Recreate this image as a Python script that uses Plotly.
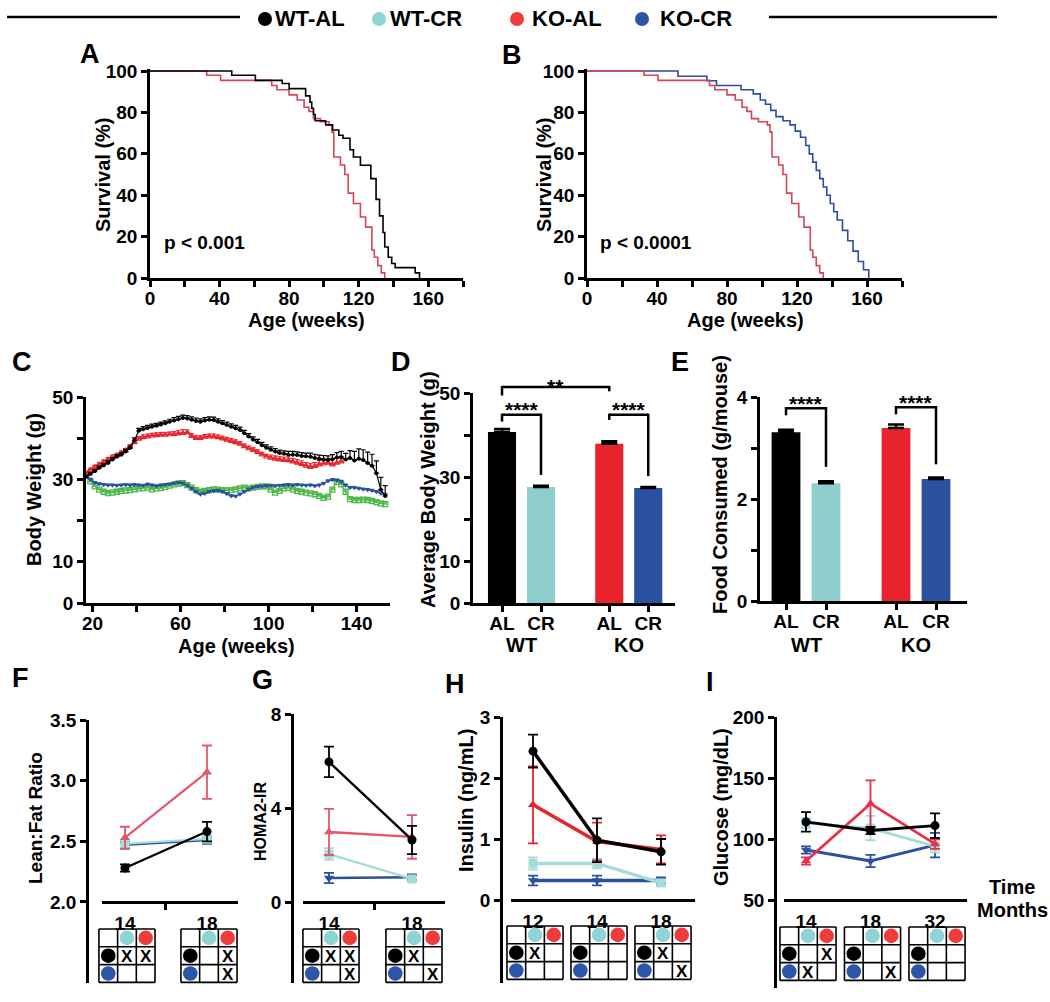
import plotly.graph_objects as go

W, H = 1050, 1002
FONT = "Liberation Sans, Arial, Helvetica, sans-serif"


def X(px):
    return px / W


def Y(py):
    return 1 - py / H


# ---------------- colours ----------------
C_BLACK = "#000000"
C_CYAN = "#8ecfcd"
C_RED = "#e8232b"
C_BLUE = "#2a50a0"
C_GREEN = "#4cb848"
C_RED_SURV = "#d9435a"
C_BLUE_SURV = "#2d4e9c"
C_RED_LINE = "#e2576b"
C_CYAN_LINE = "#a6dcd8"
DOT = {"WT-AL": "#000000", "WT-CR": "#8fd3d3", "KO-AL": "#ee3b3b", "KO-CR": "#2b56a8"}

# ---------------- data ----------------
groups = ["WT-AL", "WT-CR", "KO-AL", "KO-CR"]

# A / B : survival (weeks, %)
wt_al_weeks = [0, 47, 60.6, 76, 80, 89.5, 92, 93, 94, 95, 101, 105, 108.6, 111, 115, 117, 121, 127, 130, 132,
               134, 135, 137, 139, 141, 152.5, 155]
wt_al_surv = [100, 98, 95.5, 94, 91.5, 88, 85, 82, 79, 76, 74, 71.5, 69, 67.5, 62, 58.5, 54.5, 48, 38, 30,
              22, 15, 10, 7, 5, 2.5, 0]
ko_al_weeks = [0, 32.6, 40.6, 70, 73, 80, 84.7, 88.6, 91.4, 94, 98, 103, 104.6, 105.7, 109.5, 112, 114, 117, 121, 124,
               127.6, 129, 131, 133, 135]
ko_al_surv = [100, 98, 95.5, 93, 91, 88.5, 86, 82.5, 80.5, 77, 75.5, 74, 70.5, 58.5, 54.6, 50, 41, 36, 29.5, 24.6,
              13.5, 10, 6, 2.5, 0]
ko_cr_weeks = [0, 52, 68.5, 74, 88, 95, 99, 102, 105, 108, 112, 116, 119, 122, 125, 127, 129, 131, 133, 135,
               137, 139, 141, 143, 146, 149, 152, 155, 158, 161]
ko_cr_surv = [100, 97.5, 95.3, 93, 91, 89, 86, 84, 81, 78, 76, 74, 71, 68, 64, 60, 56, 52, 48, 44,
              40, 36, 32, 28, 23, 18, 13, 8, 4, 0]

# C : body weight (g) vs age (weeks)
weeks_c = list(range(17, 154, 2))
bw_wt_al = [30.6, 31.3, 32.0, 32.8, 33.4, 34.0, 34.8, 35.5, 36.0, 36.8, 37.6, 39.5,
            41.8, 42.2, 42.5, 42.8, 43.0, 43.3, 43.6, 44.0, 44.3, 44.6, 44.9, 44.8,
            44.5, 44.2, 44.0, 44.3, 44.5, 44.4, 44.0, 43.6, 43.2, 42.8, 42.4, 42.0,
            41.2, 40.4, 39.6, 39.0, 38.3, 37.7, 37.2, 36.8, 36.4, 36.2, 36.0, 36.0,
            35.9, 35.7, 35.6, 35.5, 35.2, 35.0, 34.8, 34.7, 34.9, 35.3, 35.4, 34.8,
            35.2, 34.6, 35.0, 34.7, 34.0, 33.3, 31.5, 27.5, 26.0]
bw_wt_al_err = [0.4, 0.4, 0.4, 0.4, 0.4, 0.5, 0.5, 0.5, 0.5, 0.5, 0.5, 0.6,
                0.6, 0.6, 0.6, 0.6, 0.6, 0.6, 0.6, 0.6, 0.7, 0.7, 0.7, 0.7,
                0.7, 0.7, 0.7, 0.7, 0.7, 0.7, 0.7, 0.7, 0.7, 0.7, 0.7, 0.7,
                0.7, 0.7, 0.7, 0.7, 0.7, 0.7, 0.7, 0.7, 0.7, 0.7, 0.8, 0.8,
                0.8, 0.8, 0.8, 0.9, 0.9, 0.9, 1.0, 1.0, 1.1, 1.2, 1.4, 1.5,
                1.8, 2.2, 2.4, 2.5, 2.6, 2.8, 3.0, 3.0, 2.5]
bw_ko_al = [31.5, 32.3, 33.0, 33.6, 34.2, 34.8, 35.4, 35.8, 36.4, 37.0, 37.9, 39.0,
            39.8, 40.2, 40.4, 40.6, 40.7, 40.8, 40.8, 40.9, 41.0, 41.1, 41.2, 41.4,
            40.5, 40.0, 40.0, 40.3, 40.4, 40.4, 40.2, 39.9, 39.6, 39.3, 39.0, 38.6,
            38.0, 37.5, 37.1, 36.6, 36.0, 35.5, 35.2, 35.0, 34.8, 34.7, 34.6, 34.3,
            34.0, 33.7, 33.3, 33.0, 33.2, 33.6, 33.8, 34.0, 33.6, 34.0, 34.3]
bw_ko_al_err = [0.4, 0.4, 0.4, 0.4, 0.5, 0.5, 0.5, 0.5, 0.5, 0.5, 0.5, 0.5,
                0.6, 0.6, 0.6, 0.6, 0.6, 0.6, 0.6, 0.6, 0.6, 0.8, 0.9, 0.6,
                0.6, 0.6, 0.6, 0.6, 0.6, 0.6, 0.6, 0.6, 0.6, 0.6, 0.6, 0.6,
                0.6, 0.6, 0.6, 0.6, 0.6, 0.6, 0.7, 0.7, 0.7, 0.7, 0.8, 0.8,
                0.8, 0.8, 0.8, 0.9, 0.9, 1.0, 1.0, 1.1, 1.2, 1.2, 1.3]
bw_ko_cr = [31.0, 30.0, 29.2, 28.9, 28.7, 28.6, 28.6, 28.5, 28.6, 28.7, 28.6, 28.7,
            28.6, 28.5, 28.8, 28.6, 28.4, 28.6, 28.7, 28.8, 29.0, 29.2, 29.0, 28.5,
            27.8, 27.0, 26.4, 26.6, 27.0, 27.2, 27.3, 27.0, 26.5, 26.0, 25.9, 26.4,
            27.0, 27.6, 28.0, 28.2, 28.3, 28.4, 28.5, 28.4, 28.5, 28.6, 28.7, 28.6,
            28.7, 28.6, 28.5, 28.6, 28.4, 28.6, 29.0, 29.6, 29.9, 29.8, 29.5, 28.6,
            28.0, 28.0, 27.8, 27.6, 27.5, 27.3, 27.0, 26.6, 26.3]
bw_wt_cr = [31.2, 29.5, 28.3, 27.5, 27.0, 26.7, 26.8, 27.0, 27.2, 27.3, 27.4, 27.6,
            27.8, 27.9, 28.0, 27.6, 27.8, 27.9, 28.2, 28.5, 28.8, 29.0, 29.1, 28.6,
            28.0, 27.4, 27.0, 27.2, 27.4, 27.6, 27.5, 27.4, 27.3, 27.4, 27.6, 27.8,
            28.0, 27.8, 28.0, 28.2, 28.3, 28.3, 27.5, 26.8, 27.2, 27.8, 28.0, 27.6,
            27.2, 27.0, 26.8, 26.6, 26.4, 26.0, 25.5, 25.8, 27.5, 29.4, 28.8, 27.0,
            25.2, 25.0, 25.0, 25.1, 25.0, 24.8, 24.5, 24.2, 24.0]

# D : average body weight (g)
bar_labels = ["AL", "CR", "AL", "CR"]
bar_pos = [0, 1, 2.75, 3.75]
bar_groups = ["WT", "KO"]
d_vals = [40.7, 27.6, 37.9, 27.4]
d_err = [0.7, 0.3, 0.6, 0.2]
# E : food consumed (g/mouse)
e_vals = [3.31, 2.31, 3.39, 2.39]
e_err = [0.05, 0.04, 0.07, 0.03]

# F : lean:fat ratio at 14, 18 months
f_months = ["14", "18"]
f_data = {"WT-AL": ([2.28, 2.58], [0.03, 0.08]),
          "WT-CR": ([2.48, 2.52], [0.03, 0.03]),
          "KO-AL": ([2.53, 3.07], [0.09, 0.22]),
          "KO-CR": ([2.47, 2.51], [0.03, 0.03])}
f_tables = [[[1, 1], [0, 0]], [[0, 1], [0, 1]]]
# G : HOMA2-IR
g_months = ["14", "18"]
g_data = {"WT-AL": ([5.96, 2.64], [0.65, 0.60]),
          "WT-CR": ([2.04, 0.98], [0.25, 0.10]),
          "KO-AL": ([2.98, 2.77], [0.98, 0.93]),
          "KO-CR": ([1.02, 1.05], [0.22, 0.12])}
g_tables = [[[1, 1], [0, 1]], [[1, 0], [0, 1]]]
# H : insulin (ng/mL)
h_months = ["12", "14", "18"]
h_data = {"WT-AL": ([2.44, 0.98, 0.79], [0.27, 0.36, 0.21]),
          "WT-CR": ([0.60, 0.60, 0.28], [0.10, 0.08, 0.05]),
          "KO-AL": ([1.56, 0.96, 0.83], [0.63, 0.31, 0.23]),
          "KO-CR": ([0.32, 0.32, 0.32], [0.08, 0.08, 0.05])}
h_tables = [[[1, 0], [0, 0]], [[0, 0], [0, 0]], [[1, 0], [0, 1]]]
# I : glucose (mg/dL)
i_months = ["14", "18", "32"]
i_data = {"WT-AL": ([114, 107, 111], [8, 3, 10]),
          "WT-CR": ([113, 109, 94], [4, 10, 5]),
          "KO-AL": ([82, 129, 96], [3, 19, 4]),
          "KO-CR": ([91, 82, 95], [3, 5, 10])}
i_tables = [[[0, 1], [1, 0]], [[0, 0], [0, 1]], [[0, 0], [0, 0]]]

# ---------------- geometry (pixels) ----------------
geo = {
    "A": dict(xd=(150, 463), xr=(0, 180), yd=(278, 69), yr=(0, 101)),
    "B": dict(xd=(587, 902), xr=(0, 180), yd=(278, 69), yr=(0, 101)),
    "C": dict(xd=(86, 389.6), xr=(17, 155), yd=(603, 397), yr=(0, 50)),
    "D": dict(xd=(473, 675), xr=(-0.744, 4.436), yd=(603, 393), yr=(0, 50)),
    "E": dict(xd=(760, 967), xr=(-0.65, 4.525), yd=(601, 397), yr=(0, 4)),
    "F": dict(xd=(102, 238), xr=(-0.280, 1.378), yd=(983, 720), yr=(1.332, 3.5), xpos=902, ypos=87),
    "G": dict(xd=(303, 445), xr=(-0.313, 1.398), yd=(983, 714), yr=(-3.447, 8), xpos=902, ypos=292),
    "H": dict(xd=(511, 695), xr=(-0.344, 2.531), yd=(983, 717), yr=(-1.36, 3), xpos=900, ypos=501),
    "I": dict(xd=(784, 967), xr=(-0.341, 2.496), yd=(988, 717), yr=(-22.1, 200), xpos=900, ypos=775),
}


def dx(p, v):
    g = geo[p]
    return g["xd"][0] + (v - g["xr"][0]) / (g["xr"][1] - g["xr"][0]) * (g["xd"][1] - g["xd"][0])


def dy(p, v):
    g = geo[p]
    return g["yd"][0] + (v - g["yr"][0]) / (g["yr"][1] - g["yr"][0]) * (g["yd"][1] - g["yd"][0])


# ---------------- figure ----------------
fig = go.Figure()


def ids(p):
    n = "ABCDEFGHI".index(p) + 1
    return ("x" if n == 1 else f"x{n}"), ("y" if n == 1 else f"y{n}")


# A
xa, ya = ids("A")
fig.add_trace(go.Scatter(x=ko_al_weeks, y=ko_al_surv, mode="lines", xaxis=xa, yaxis=ya,
                         line=dict(color=C_RED_SURV, width=1.6, shape="hv"), showlegend=False))
fig.add_trace(go.Scatter(x=wt_al_weeks, y=wt_al_surv, mode="lines", xaxis=xa, yaxis=ya,
                         line=dict(color=C_BLACK, width=1.6, shape="hv"), showlegend=False))
# B
xa, ya = ids("B")
fig.add_trace(go.Scatter(x=ko_cr_weeks, y=ko_cr_surv, mode="lines", xaxis=xa, yaxis=ya,
                         line=dict(color=C_BLUE_SURV, width=1.6, shape="hv"), showlegend=False))
fig.add_trace(go.Scatter(x=ko_al_weeks, y=ko_al_surv, mode="lines", xaxis=xa, yaxis=ya,
                         line=dict(color=C_RED_SURV, width=1.6, shape="hv"), showlegend=False))

# C
xa, ya = ids("C")
fig.add_trace(go.Scatter(x=weeks_c, y=bw_wt_cr, mode="lines+markers", xaxis=xa, yaxis=ya,
                         line=dict(color=C_GREEN, width=1.2),
                         marker=dict(symbol="square-open", size=5, color=C_GREEN, line=dict(width=1.3)),
                         error_y=dict(type="constant", value=0.35, symmetric=False, valueminus=0,
                                      color=C_GREEN, thickness=1, width=2),
                         cliponaxis=False, showlegend=False))
fig.add_trace(go.Scatter(x=weeks_c, y=bw_ko_cr, mode="lines+markers", xaxis=xa, yaxis=ya,
                         line=dict(color=C_BLUE, width=1.2),
                         marker=dict(symbol="triangle-down", size=5, color=C_BLUE),
                         error_y=dict(type="constant", value=0.3, symmetric=False, valueminus=0,
                                      color=C_BLUE, thickness=1, width=2),
                         cliponaxis=False, showlegend=False))
fig.add_trace(go.Scatter(x=weeks_c[:len(bw_ko_al)], y=bw_ko_al, mode="lines+markers", xaxis=xa, yaxis=ya,
                         line=dict(color=C_RED, width=1.2),
                         marker=dict(symbol="triangle-up-open", size=5, color=C_RED, line=dict(width=1.2)),
                         error_y=dict(type="data", array=bw_ko_al_err, symmetric=False,
                                      arrayminus=[0] * len(bw_ko_al), color=C_RED, thickness=1, width=2.5),
                         cliponaxis=False, showlegend=False))
fig.add_trace(go.Scatter(x=weeks_c, y=bw_wt_al, mode="lines+markers", xaxis=xa, yaxis=ya,
                         line=dict(color=C_BLACK, width=1.2),
                         marker=dict(symbol="circle", size=4, color=C_BLACK),
                         error_y=dict(type="data", array=bw_wt_al_err, symmetric=False,
                                      arrayminus=[0] * len(bw_wt_al), color=C_BLACK, thickness=1.2, width=2.5),
                         cliponaxis=False, showlegend=False))

# D / E bars
bar_colors = [C_BLACK, C_CYAN, C_RED, C_BLUE]
for p, vals, errs in (("D", d_vals, d_err), ("E", e_vals, e_err)):
    xa, ya = ids(p)
    fig.add_trace(go.Bar(x=bar_pos, y=vals, width=0.72, xaxis=xa, yaxis=ya,
                         marker=dict(color=bar_colors, line=dict(width=0)),
                         error_y=dict(type="data", array=errs, symmetric=False, arrayminus=[0] * 4,
                                      color="black", thickness=2.5, width=8),
                         showlegend=False))

# F - I line panels
sym = {"WT-AL": "circle", "WT-CR": "square", "KO-AL": "triangle-up", "KO-CR": "triangle-down"}
order = ["KO-CR", "WT-CR", "KO-AL", "WT-AL"]
panel_cols = {
    "F": {"WT-AL": C_BLACK, "WT-CR": C_CYAN_LINE, "KO-AL": C_RED_LINE, "KO-CR": C_BLUE},
    "G": {"WT-AL": C_BLACK, "WT-CR": C_CYAN_LINE, "KO-AL": C_RED_LINE, "KO-CR": C_BLUE},
    "H": {"WT-AL": C_BLACK, "WT-CR": C_CYAN_LINE, "KO-AL": C_RED, "KO-CR": C_BLUE},
    "I": {"WT-AL": C_BLACK, "WT-CR": C_CYAN_LINE, "KO-AL": "#e8304a", "KO-CR": C_BLUE},
}
line_w = {"F": 2.2, "G": 2.4, "H": 3.5, "I": 2.8}
for p, data in (("F", f_data), ("G", g_data), ("H", h_data), ("I", i_data)):
    xa, ya = ids(p)
    for gname in order:
        vals, errs = data[gname]
        col = panel_cols[p][gname]
        fig.add_trace(go.Scatter(x=list(range(len(vals))), y=vals, mode="lines+markers", xaxis=xa, yaxis=ya,
                                 line=dict(color=col, width=line_w[p]),
                                 marker=dict(symbol=sym[gname], size=9, color=col),
                                 error_y=dict(type="data", array=errs, color=col, thickness=1.8, width=5),
                                 cliponaxis=False, showlegend=False))

# ---------------- axes ----------------
TICKFONT = dict(family=FONT, size=19, color="black", weight="bold")


def mk(**kw):
    d = dict(showline=True, linewidth=2.5, linecolor="black", ticks="outside", ticklen=6, tickwidth=2.5,
             tickcolor="black", showgrid=False, zeroline=False, fixedrange=True, automargin=False,
             tickfont=TICKFONT)
    d.update(kw)
    return d


axes = {}


def set_axes(p, xkw, ykw):
    xa, ya = ids(p)
    g = geo[p]
    xname = "xaxis" + xa[1:]
    yname = "yaxis" + ya[1:]
    xd = dict(domain=[X(g["xd"][0]), X(g["xd"][1])], range=list(g["xr"]))
    yd = dict(domain=[Y(g["yd"][0]), Y(g["yd"][1])], range=list(g["yr"]))
    if "xpos" in g:
        xd.update(anchor="free", position=Y(g["xpos"]))
        yd.update(anchor="free", position=X(g["ypos"]))
    else:
        xd.update(anchor=ya, ticklabelstandoff=-5)
        yd.update(anchor=xa)
    xd.update(xkw)
    yd.update(ykw)
    axes[xname] = mk(**xd)
    axes[yname] = mk(**yd)


surv_x = dict(tickvals=[0, 20, 40, 60, 80, 100, 120, 140, 160, 180],
              ticktext=["0", "", "40", "", "80", "", "120", "", "160", ""])
surv_y = dict(tickvals=[0, 20, 40, 60, 80, 100])
set_axes("A", surv_x, surv_y)
set_axes("B", surv_x, surv_y)
bw_y = dict(tickvals=[0, 10, 20, 30, 40, 50], ticktext=["0", "10", "", "30", "", "50"])
set_axes("C", dict(tickvals=[20, 40, 60, 80, 100, 120, 140], ticktext=["20", "", "60", "", "100", "", "140"]), bw_y)
set_axes("D", dict(tickvals=bar_pos, ticktext=bar_labels), bw_y)
set_axes("E", dict(tickvals=bar_pos, ticktext=bar_labels),
         dict(tickvals=[0, 1, 2, 3, 4], ticktext=["0", "", "2", "", "4"]))

minor_mid = dict(ticks="outside", ticklen=6, tickwidth=2.5, tickcolor="black", showgrid=False)
set_axes("F", dict(tickvals=[0, 1], ticktext=f_months, tickcolor="rgba(0,0,0,0)", ticklen=3,
                   minor=dict(tickvals=[0.5], **minor_mid)),
         dict(tickvals=[2.0, 2.5, 3.0, 3.5], ticktext=["2.0", "2.5", "3.0", "3.5"]))
set_axes("G", dict(tickvals=[0, 1], ticktext=g_months, tickcolor="rgba(0,0,0,0)", ticklen=3,
                   minor=dict(tickvals=[0.55], **minor_mid)),
         dict(tickvals=[0, 4, 8]))
set_axes("H", dict(tickvals=[0, 1, 2], ticktext=h_months, tickcolor="rgba(0,0,0,0)", ticklen=3),
         dict(tickvals=[0, 1, 2, 3]))
set_axes("I", dict(tickvals=[0, 1, 2], ticktext=i_months, tickcolor="rgba(0,0,0,0)", ticklen=3),
         dict(tickvals=[50, 100, 150, 200]))

# ---------------- shapes & annotations ----------------
shapes = []
annotations = []


def seg(x0, y0, x1, y1, w=2.5, color="black"):
    shapes.append(dict(type="line", xref="paper", yref="paper", x0=X(x0), y0=Y(y0), x1=X(x1), y1=Y(y1),
                       line=dict(color=color, width=w)))


def circ(cx, cy, r, color):
    shapes.append(dict(type="circle", xref="paper", yref="paper", x0=X(cx - r), x1=X(cx + r),
                       y0=Y(cy + r), y1=Y(cy - r), fillcolor=color, line=dict(width=0)))


def text(s, px, py, size=20, bold=True, angle=0, xanchor="center", yanchor="middle"):
    annotations.append(dict(text=(f"<b>{s}</b>" if bold else s), x=X(px), y=Y(py), xref="paper", yref="paper",
                            showarrow=False, textangle=angle, xanchor=xanchor, yanchor=yanchor,
                            font=dict(family=FONT, size=size, color="black")))


# header legend
seg(7, 17, 240, 17, 2.5)
seg(769, 17, 997, 17, 2.5)
for gname, cx, tx in zip(groups, [265, 379, 517, 642], [273, 388, 530, 658]):
    circ(cx, 19, 7, DOT[gname])
    text(gname, tx, 19, size=22, xanchor="left")

# panel letters
for lab, px, py in [("A", 90, 54), ("B", 512, 55), ("C", 22, 362), ("D", 401, 362), ("E", 680, 362),
                    ("F", 20, 678), ("G", 262, 680), ("H", 455, 684), ("I", 710, 682)]:
    text(lab, px, py, size=27)

# axis titles
text("Survival (%)", 103, 175, angle=-90)
text("Survival (%)", 544, 175, angle=-90)
text("Age (weeks)", 306, 320)
text("Age (weeks)", 745, 320)
text("p &lt; 0.001", 162, 243, size=19, xanchor="left")
text("p &lt; 0.0001", 598, 243, size=19, xanchor="left")
text("Body Weight (g)", 34, 490, angle=-90)
text("Age (weeks)", 237, 646)
text("Average Body Weight (g)", 428, 490, angle=-90)
text("Food Consumed (g/mouse)", 720, 485, angle=-90)
for p in ("D", "E"):
    text(bar_groups[0], (dx(p, bar_pos[0]) + dx(p, bar_pos[1])) / 2, 645)
    text(bar_groups[1], (dx(p, bar_pos[2]) + dx(p, bar_pos[3])) / 2, 645)
text("Lean:Fat Ratio", 35, 818, size=19, angle=-90)
text("HOMA2-IR", 260, 821, size=16, angle=-90)
text("Insulin (ng/mL)", 466, 801, angle=-90)
text("Glucose (mg/dL)", 721, 807, angle=-90)
text("Time", 1012, 887)
text("Months", 1012, 910)


# significance brackets
def bracket(p, i0, i1, level, left_end, right_end, label, label_level):
    x0, x1 = dx(p, bar_pos[i0]), dx(p, bar_pos[i1])
    yl = dy(p, level)
    seg(x0, yl, x1, yl, 2.5)
    seg(x0, yl - 1.2, x0, dy(p, left_end), 2.5)
    seg(x1, yl - 1.2, x1, dy(p, right_end), 2.5)
    text(label, (x0 + x1) / 2, dy(p, label_level), size=21)


bracket("D", 0, 2, 51.4, 49.4, 50.4, "**", 51.6)
bracket("D", 0, 1, 44.8, 43.2, d_vals[1] + d_err[1] + 2.6, "****", 46.0)
bracket("D", 2, 3, 44.8, 43.6, d_vals[3] + d_err[3] + 2.6, "****", 46.0)
bracket("E", 0, 1, 3.78, 3.64, e_vals[1] + e_err[1] + 0.28, "****", 3.87)
bracket("E", 2, 3, 3.80, 3.66, e_vals[3] + e_err[3] + 0.26, "****", 3.89)


# group tables under F - I
def table(cx, top, marks, cw=18.7, ch=17.8):
    left = cx - 1.5 * cw
    for k in range(4):
        seg(left + k * cw, top, left + k * cw, top + 3 * ch, 1.6)
        seg(left, top + k * ch, left + 3 * cw, top + k * ch, 1.6)
    r = 7.3
    circ(left + 1.5 * cw, top + 0.5 * ch, r, DOT["WT-CR"])
    circ(left + 2.5 * cw, top + 0.5 * ch, r, DOT["KO-AL"])
    circ(left + 0.5 * cw, top + 1.5 * ch, r, DOT["WT-AL"])
    circ(left + 0.5 * cw, top + 2.5 * ch, r, DOT["KO-CR"])
    for ri in range(2):
        for ci in range(2):
            if marks[ri][ci]:
                text("X", left + (1.5 + ci) * cw, top + (1.5 + ri) * ch + 0.5, size=17)


for p, tabs, top in (("F", f_tables, 929), ("G", g_tables, 929), ("H", h_tables, 926), ("I", i_tables, 927)):
    for k, marks in enumerate(tabs):
        table(dx(p, k) + 2, top, marks)

fig.update_layout(
    width=W, height=H, margin=dict(l=0, r=0, t=0, b=0), template="none",
    paper_bgcolor="white", plot_bgcolor="rgba(0,0,0,0)", showlegend=False,
    font=dict(family=FONT, color="black"), shapes=shapes, annotations=annotations, **axes)

fig.write_html("out.html", config={"displayModeBar": False})
